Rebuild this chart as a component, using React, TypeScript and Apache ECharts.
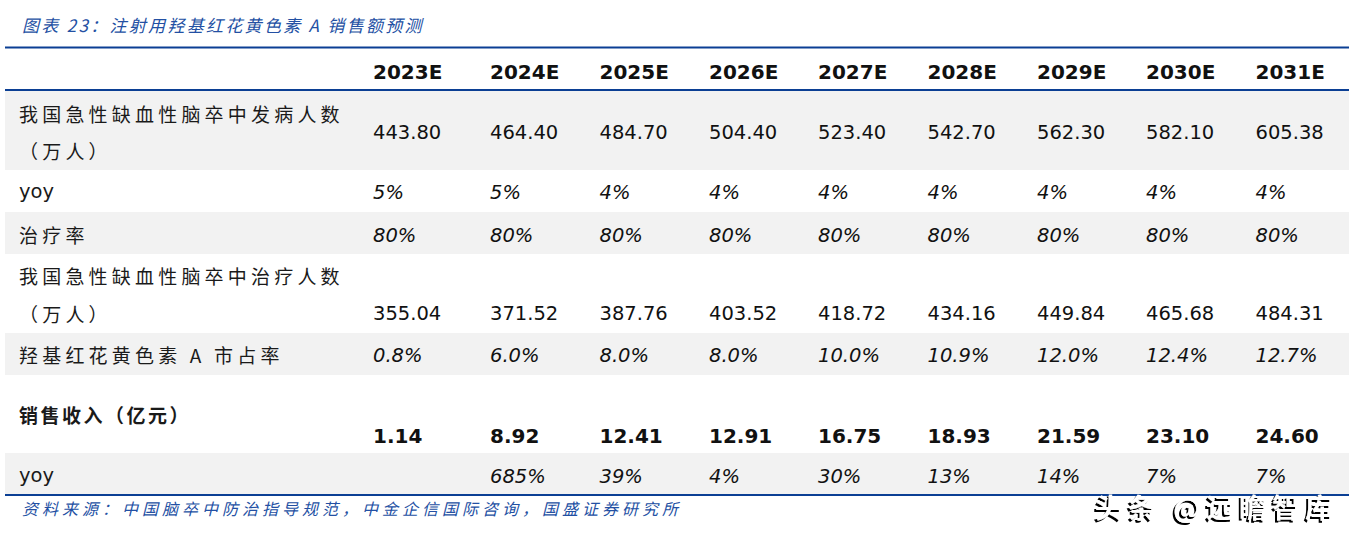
import React, { useEffect, useRef } from 'react';
import * as echarts from 'echarts';

const title = '图表 23：注射用羟基红花黄色素 A 销售额预测';
const source = '资料来源：中国脑卒中防治指导规范，中金企信国际咨询，国盛证券研究所';
const watermark = '头条 @远瞻智库';

const years = ['2023E', '2024E', '2025E', '2026E', '2027E', '2028E', '2029E', '2030E', '2031E'];
const incidence = [443.8, 464.4, 484.7, 504.4, 523.4, 542.7, 562.3, 582.1, 605.38];
const incidenceYoy = [5, 5, 4, 4, 4, 4, 4, 4, 4];
const treatRate = [80, 80, 80, 80, 80, 80, 80, 80, 80];
const treated = [355.04, 371.52, 387.76, 403.52, 418.72, 434.16, 449.84, 465.68, 484.31];
const share = [0.8, 6.0, 8.0, 8.0, 10.0, 10.9, 12.0, 12.4, 12.7];
const revenue = [1.14, 8.92, 12.41, 12.91, 16.75, 18.93, 21.59, 23.1, 24.6];
const revenueYoy: (number | null)[] = [null, 685, 39, 4, 30, 13, 14, 7, 7];

const rowLabels = [
  ['我国急性缺血性脑卒中发病人数', '（万人）'],
  ['yoy'],
  ['治疗率'],
  ['我国急性缺血性脑卒中治疗人数', '（万人）'],
  ['羟基红花黄色素 A 市占率'],
  ['销售收入（亿元）'],
  ['yoy'],
];

const BLUE_LINE = '#0B3F94';
const BLUE_TEXT = '#2350A3';
const GRAY = '#F2F2F2';
const TXT = '#111111';
const NUM_FONT = '"DejaVu Sans", Verdana, sans-serif';
const CJK_FONT = '"Noto Sans CJK SC", "DejaVu Sans", sans-serif';

export default function App() {
  const ref = useRef<HTMLDivElement>(null);

  useEffect(() => {
    if (!ref.current) return;
    const chart = echarts.init(ref.current, undefined, { renderer: 'svg' });

    const left = 5;
    const right = 1349;
    const colX = [373, 490, 599.5, 709, 818, 927.5, 1037, 1146, 1255.5];

    const rowsData: { values: string[]; italic: boolean; bold: boolean }[] = [
      { values: incidence.map((v) => v.toFixed(2)), italic: false, bold: false },
      { values: incidenceYoy.map((v) => `${v}%`), italic: true, bold: false },
      { values: treatRate.map((v) => `${v}%`), italic: true, bold: false },
      { values: treated.map((v) => v.toFixed(2)), italic: false, bold: false },
      { values: share.map((v) => `${v.toFixed(1)}%`), italic: true, bold: false },
      { values: revenue.map((v) => v.toFixed(2)), italic: false, bold: true },
      { values: revenueYoy.map((v) => (v == null ? '' : `${v}%`)), italic: true, bold: false },
    ];

    const layout = [
      { top: 91, bottom: 170, gray: true, labelY: [113.5, 150.5], valueY: 132.5 },
      { top: 170, bottom: 212, gray: false, labelY: [191.5], valueY: 192 },
      { top: 212, bottom: 254, gray: true, labelY: [234], valueY: 235 },
      { top: 254, bottom: 333, gray: false, labelY: [275, 313], valueY: 313.5 },
      { top: 333, bottom: 375, gray: true, labelY: [354.5], valueY: 355.5 },
      { top: 375, bottom: 453, gray: false, labelY: [414.5], valueY: 435.5 },
      { top: 453, bottom: 495, gray: true, labelY: [475.5], valueY: 476 },
    ];

    const elements: any[] = [];

    layout.forEach((l) => {
      if (l.gray) {
        elements.push({
          type: 'rect',
          shape: { x: left, y: l.top, width: right - left, height: l.bottom - l.top },
          style: { fill: GRAY },
          silent: true,
        });
      }
    });

    [47.5, 90, 495].forEach((y) => {
      elements.push({
        type: 'line',
        shape: { x1: left, y1: y, x2: right, y2: y },
        style: { stroke: BLUE_LINE, lineWidth: 2.2 },
        silent: true,
      });
    });

    const txt = (x: number, y: number, text: string, s: any) => ({
      type: 'text',
      x,
      y,
      silent: true,
      style: {
        text,
        fill: TXT,
        textAlign: 'left',
        textVerticalAlign: 'middle',
        align: 'left',
        verticalAlign: 'middle',
        ...s,
      },
    });

    elements.push(
      txt(22, 24.5, title, {
        fontFamily: CJK_FONT,
        fontSize: 17,
        fontStyle: 'italic',
        fill: BLUE_TEXT,
      })
    );

    years.forEach((y, i) => {
      elements.push(
        txt(colX[i], 72, y, { fontFamily: NUM_FONT, fontSize: 20, fontWeight: 'bold' })
      );
    });

    rowLabels.forEach((lines, r) => {
      const l = layout[r];
      lines.forEach((line, k) => {
        const isLatin = /^[a-z]+$/i.test(line);
        elements.push(
          txt(19, l.labelY[k], line, {
            fontFamily: isLatin ? NUM_FONT : CJK_FONT,
            fontSize: isLatin ? 19.5 : 19,
            fontWeight: r === 5 ? 'bold' : 'normal',
            fill: '#1a1a1a',
          })
        );
      });
      const rd = rowsData[r];
      rd.values.forEach((v, i) => {
        if (!v) return;
        elements.push(
          txt(colX[i], l.valueY, v, {
            fontFamily: NUM_FONT,
            fontSize: rd.bold ? 20 : 19.5,
            fontStyle: rd.italic ? 'italic' : 'normal',
            fontWeight: rd.bold ? 'bold' : 'normal',
          })
        );
      });
    });

    elements.push(
      txt(22, 507.5, source, {
        fontFamily: CJK_FONT,
        fontSize: 16,
        fontStyle: 'italic',
        fill: BLUE_TEXT,
      })
    );

    elements.push(
      txt(1095, 506, watermark, {
        fontFamily: CJK_FONT,
        fontSize: 27,
        fontWeight: 'bold',
        fill: '#ffffff',
        textShadowColor: '#000000',
        textShadowOffsetX: -2,
        textShadowOffsetY: 2,
        textShadowBlur: 0.5,
      })
    );

    chart.setOption({
      animation: false,
      backgroundColor: '#ffffff',
      graphic: { elements },
    });

    const spacing = new Map<string, number>([
      [title, 2.3],
      [source, 4.0],
      [watermark, 6],
      ['我国急性缺血性脑卒中发病人数', 4.2],
      ['我国急性缺血性脑卒中治疗人数', 4.2],
      ['（万人）', 4.2],
      ['治疗率', 4.2],
      ['羟基红花黄色素 A 市占率', 4.2],
      ['销售收入（亿元）', 2.5],
    ]);
    ref.current.querySelectorAll('text').forEach((t) => {
      const s = spacing.get(t.textContent || '');
      if (s) t.setAttribute('letter-spacing', String(s));
    });

    return () => chart.dispose();
  }, []);

  return (
    <div
      ref={ref}
      style={{ position: 'fixed', left: 0, top: 0, width: 1363, height: 537, background: '#fff' }}
    />
  );
}
